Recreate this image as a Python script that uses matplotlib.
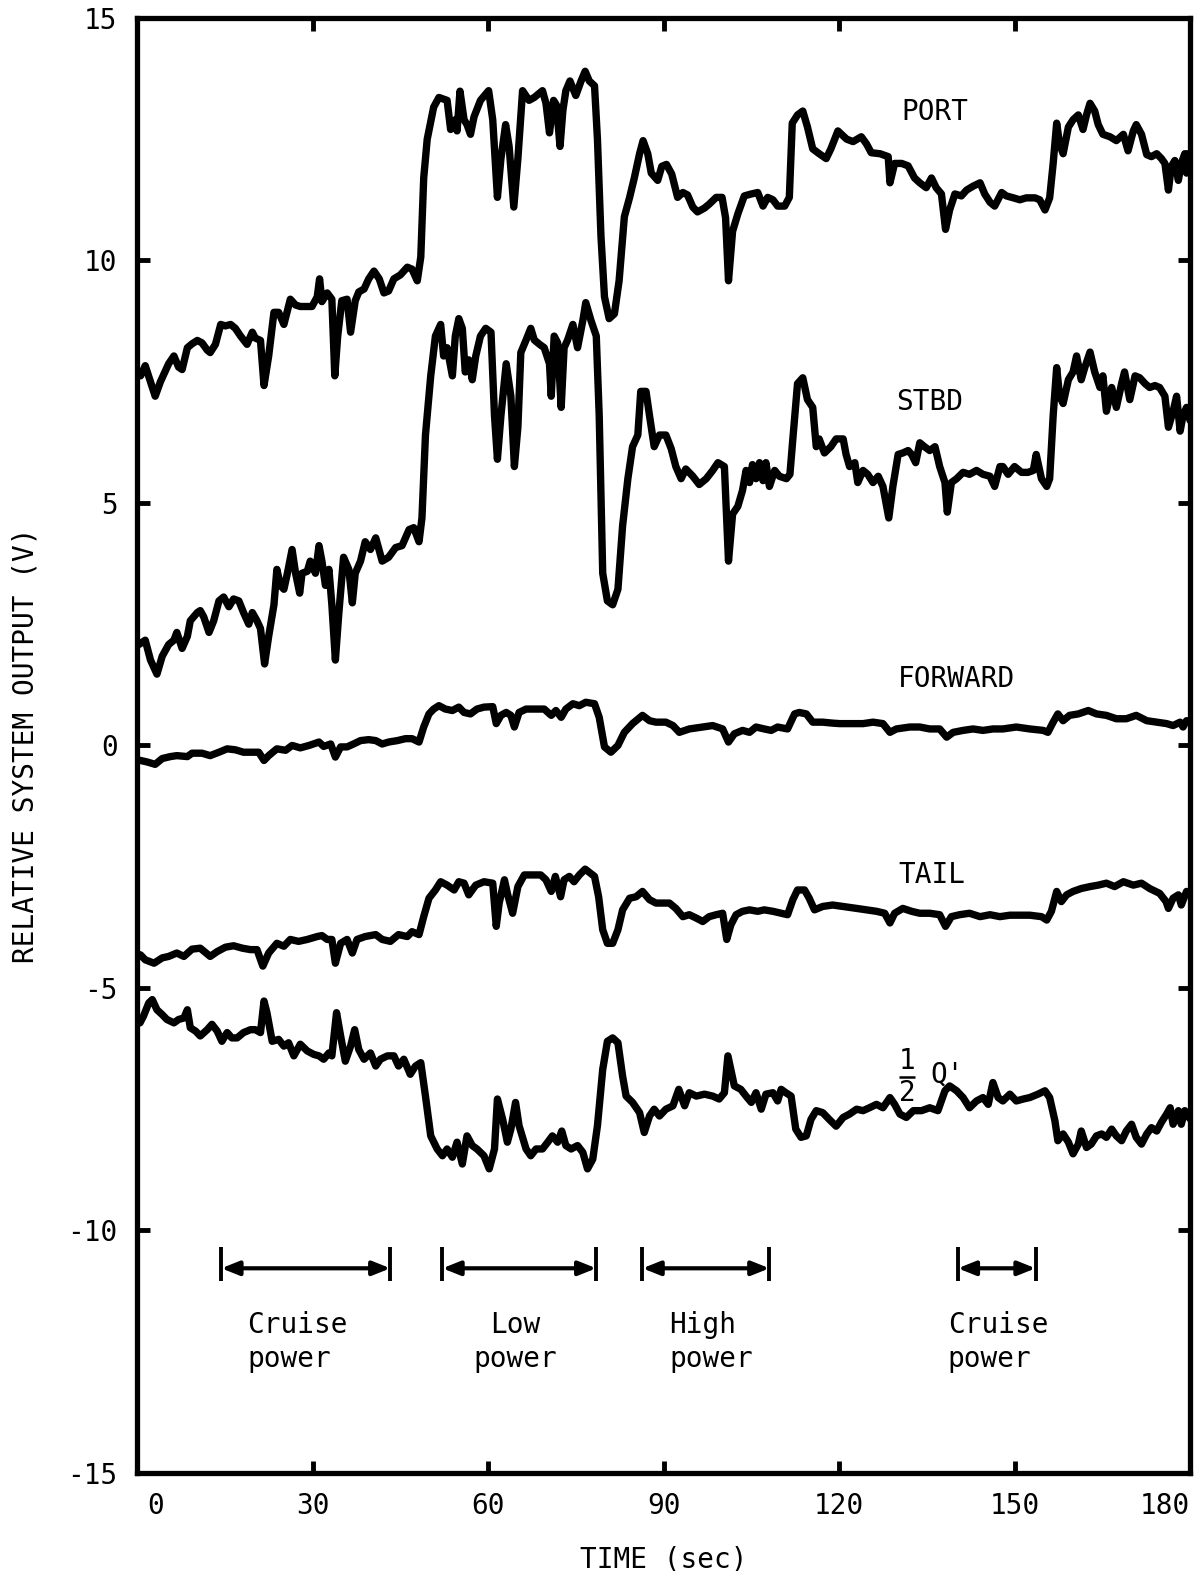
import numpy as np
import matplotlib
matplotlib.use("Agg")
import matplotlib.pyplot as plt
from matplotlib.transforms import ScaledTranslation

plt.rcParams['font.family'] = ['DejaVu Sans Mono', 'DejaVu Sans']
plt.rcParams['axes.unicode_minus'] = False

# traces: (time sec, volts)
port = [(0.0,7.7),(0.6,7.62),(1.4,7.83),(3.1,7.2),(4.0,7.5),(5.4,7.87),(6.3,8.03),(7.1,7.8),(7.7,7.75),(8.6,8.2),(9.4,8.28),(10.3,8.35),(11.1,8.3),(12.0,8.15),(12.5,8.1),(13.4,8.27),(14.3,8.68),(15.1,8.65),(16.0,8.68),(16.8,8.6),(17.7,8.44),(18.8,8.27),(19.7,8.52),(20.2,8.4),(21.1,8.35),(21.7,7.42),(22.5,8.03),(23.4,8.93),(24.2,8.93),(25.1,8.68),(26.2,9.2),(27.1,9.08),(27.9,9.05),(29.1,9.05),(29.9,9.05),(30.8,9.25),(31.2,9.62),(31.6,9.15),(32.5,9.33),(33.3,9.2),(33.8,7.62),(34.3,8.44),(35.0,9.17),(35.9,9.2),(36.5,8.52),(37.3,9.17),(37.9,9.35),(38.8,9.41),(39.6,9.62),(40.5,9.78),(41.4,9.62),(42.2,9.33),(43.0,9.37),(43.9,9.62),(45.0,9.7),(46.2,9.86),(47.0,9.82),(47.9,9.58),(48.5,10.07),(49.0,11.7),(49.6,12.5),(50.7,13.16),(51.6,13.36),(53.0,13.3),(53.6,12.7),(54.4,12.9),(54.7,12.67),(55.2,13.49),(55.9,12.9),(56.4,12.8),(57.0,12.6),(57.6,12.96),(58.7,13.3),(60.1,13.5),(60.8,12.9),(61.6,11.3),(62.2,12.1),(63.0,12.8),(63.6,12.35),(64.4,11.1),(65.1,12.1),(65.9,13.5),(67.0,13.3),(67.9,13.36),(69.3,13.5),(69.9,13.24),(70.5,12.63),(71.2,13.3),(71.7,13.2),(72.3,12.35),(72.8,13.1),(73.3,13.5),(74.0,13.7),(75.0,13.4),(75.9,13.7),(76.6,13.9),(77.3,13.7),(78.2,13.6),(78.7,12.5),(79.3,10.5),(79.9,9.25),(80.7,8.8),(81.6,8.9),(82.4,9.58),(83.3,10.9),(84.2,11.3),(85.0,11.7),(85.9,12.2),(86.5,12.47),(87.3,12.2),(87.9,11.8),(89.0,11.65),(89.7,11.94),(90.5,11.98),(91.4,11.78),(92.4,11.3),(93.3,11.4),(94.1,11.35),(95.0,11.1),(95.8,11.0),(97.0,11.08),(97.8,11.16),(99.0,11.3),(100.0,11.3),(100.6,10.88),(101.1,9.58),(101.8,10.6),(102.7,10.96),(103.8,11.33),(105.0,11.37),(106.1,11.4),(107.0,11.12),(107.8,11.3),(108.7,11.25),(109.5,11.12),(110.7,11.12),(111.5,11.3),(112.0,12.83),(112.9,13.0),(113.8,13.08),(114.6,12.75),(115.5,12.3),(116.6,12.2),(117.8,12.1),(118.6,12.3),(119.8,12.67),(121.3,12.5),(122.4,12.45),(123.8,12.55),(124.7,12.4),(125.5,12.22),(127.0,12.2),(128.4,12.14),(128.7,11.6),(129.5,12.0),(130.7,12.0),(131.8,11.95),(132.9,11.7),(133.8,11.6),(134.9,11.5),(135.8,11.7),(136.6,11.5),(137.5,11.37),(138.2,10.64),(138.9,11.04),(139.8,11.37),(140.9,11.33),(141.8,11.45),(142.9,11.53),(144.1,11.6),(144.9,11.37),(145.8,11.2),(146.6,11.12),(147.8,11.4),(148.6,11.33),(149.8,11.29),(150.9,11.25),(152.0,11.29),(153.5,11.29),(154.3,11.25),(155.2,11.04),(156.0,11.29),(156.6,12.0),(157.2,12.83),(157.7,12.4),(158.3,12.2),(159.2,12.75),(160.0,12.9),(160.9,13.0),(161.7,12.7),(162.3,13.0),(162.9,13.24),(163.7,13.08),(164.3,12.8),(165.1,12.6),(166.3,12.55),(167.4,12.47),(168.6,12.6),(169.4,12.26),(170.3,12.67),(170.8,12.8),(171.7,12.6),(172.6,12.18),(173.4,12.14),(174.3,12.2),(175.1,12.1),(175.7,12.0),(176.3,11.45),(176.8,11.94),(177.4,12.06),(178.0,11.65),(178.5,12.0),(179.1,12.2),(179.4,11.8),(179.7,12.2),(180.0,12.1)]

stbd = [(0.0,2.1),(0.3,2.08),(1.4,2.17),(2.3,1.76),(3.4,1.47),(4.3,1.84),(5.4,2.08),(6.3,2.17),(6.8,2.33),(7.7,2.0),(8.6,2.25),(9.1,2.57),(10.3,2.74),(10.8,2.78),(11.4,2.65),(12.3,2.33),(13.1,2.57),(14.0,2.98),(14.8,3.06),(15.7,2.86),(16.5,3.02),(17.4,2.98),(18.2,2.74),(19.1,2.5),(19.7,2.74),(20.5,2.57),(21.1,2.41),(21.8,1.68),(22.5,2.25),(23.4,2.9),(23.9,3.63),(24.5,3.3),(25.1,3.22),(25.7,3.55),(26.5,4.04),(27.1,3.55),(27.8,3.14),(28.2,3.55),(29.1,3.59),(29.6,3.8),(30.5,3.55),(31.1,4.12),(31.6,3.8),(32.2,3.3),(32.8,3.63),(33.3,2.9),(33.9,1.76),(34.5,2.74),(35.3,3.88),(36.2,3.63),(36.8,2.94),(37.3,3.55),(38.2,3.8),(39.0,4.2),(39.9,4.04),(40.8,4.28),(41.9,3.8),(43.0,3.88),(44.2,4.08),(45.3,4.12),(46.5,4.45),(47.3,4.49),(48.2,4.2),(48.7,4.69),(49.3,6.4),(50.2,7.62),(51.0,8.44),(51.9,8.68),(52.4,8.03),(53.0,8.2),(53.9,7.62),(54.4,8.44),(55.0,8.8),(55.6,8.6),(56.1,7.7),(56.7,7.95),(57.3,7.54),(57.9,8.03),(58.7,8.44),(59.6,8.6),(60.5,8.52),(61.1,6.8),(61.6,5.9),(62.2,6.8),(63.1,7.87),(63.9,7.2),(64.5,5.75),(65.1,6.56),(65.6,8.1),(66.5,8.36),(67.3,8.6),(67.9,8.36),(68.8,8.27),(69.6,8.2),(70.5,7.87),(70.8,7.2),(71.3,8.44),(71.9,8.3),(72.5,6.97),(73.0,8.2),(73.6,8.36),(74.5,8.68),(75.3,8.2),(76.2,8.76),(76.7,9.13),(77.6,8.76),(78.5,8.44),(79.0,6.8),(79.6,3.55),(80.4,2.98),(81.3,2.9),(82.2,3.22),(83.0,4.53),(83.9,5.5),(84.7,6.16),(85.6,6.4),(86.1,7.3),(87.0,7.3),(87.6,6.8),(88.4,6.16),(89.3,6.4),(90.4,6.4),(91.3,6.12),(92.1,5.75),(93.0,5.5),(93.8,5.7),(95.0,5.55),(96.1,5.38),(97.3,5.5),(98.4,5.67),(99.3,5.83),(100.4,5.75),(101.1,3.8),(101.8,4.77),(102.7,4.93),(103.5,5.26),(104.1,5.67),(104.7,5.42),(105.2,5.79),(105.8,5.5),(106.4,5.83),(107.0,5.46),(107.5,5.83),(108.1,5.34),(109.0,5.67),(109.8,5.55),(111.0,5.5),(111.6,5.59),(112.1,6.32),(112.9,7.46),(113.8,7.58),(114.6,7.13),(115.5,6.97),(116.1,6.16),(116.6,6.32),(117.5,6.03),(118.6,6.16),(119.5,6.32),(120.7,6.32),(121.2,6.0),(121.8,5.75),(122.7,5.83),(123.2,5.42),(124.1,5.67),(124.9,5.59),(125.8,5.42),(126.7,5.55),(127.5,5.34),(128.5,4.69),(129.2,5.34),(130.1,6.0),(130.9,6.03),(131.8,6.08),(132.4,6.0),(133.1,5.83),(133.8,6.24),(134.6,6.16),(135.5,6.08),(136.4,6.16),(137.2,5.75),(138.1,5.42),(138.5,4.81),(139.2,5.42),(140.1,5.5),(141.2,5.63),(142.3,5.59),(143.5,5.67),(144.6,5.59),(145.8,5.55),(146.6,5.34),(147.5,5.75),(148.0,5.75),(148.9,5.59),(150.0,5.75),(151.2,5.63),(152.3,5.63),(153.2,5.67),(153.7,6.0),(154.6,5.5),(155.5,5.34),(156.0,5.5),(156.6,6.8),(157.2,7.79),(157.7,7.2),(158.3,7.05),(159.2,7.54),(160.0,7.7),(160.6,8.03),(161.4,7.54),(162.0,7.79),(162.9,8.11),(163.7,7.7),(164.6,7.38),(165.1,7.62),(165.7,6.89),(166.6,7.38),(167.4,6.97),(168.3,7.46),(168.8,7.7),(169.7,7.13),(170.6,7.62),(171.4,7.58),(172.3,7.46),(173.1,7.38),(174.0,7.42),(174.8,7.38),(175.7,7.2),(176.3,6.56),(177.1,6.89),(177.7,7.2),(178.3,6.48),(178.8,6.8),(179.4,6.97),(180.0,6.7)]

forward = [(0.0,-0.3),(0.6,-0.31),(1.7,-0.34),(3.1,-0.39),(4.3,-0.27),(5.7,-0.23),(6.8,-0.21),(8.6,-0.23),(9.4,-0.16),(11.1,-0.16),(12.5,-0.21),(14.0,-0.14),(15.4,-0.07),(16.8,-0.09),(18.2,-0.14),(19.7,-0.14),(20.8,-0.14),(21.7,-0.31),(22.5,-0.21),(23.9,-0.07),(25.4,-0.1),(26.5,0.0),(27.9,-0.05),(29.4,0.0),(31.1,0.07),(31.9,-0.02),(33.1,0.03),(33.9,-0.24),(34.8,-0.03),(35.9,-0.03),(37.0,0.03),(38.2,0.1),(39.6,0.12),(40.8,0.1),(41.9,0.03),(43.0,0.07),(44.5,0.1),(45.9,0.14),(47.0,0.14),(48.2,0.07),(49.0,0.38),(49.9,0.65),(50.7,0.75),(51.6,0.82),(52.7,0.75),(53.9,0.72),(55.0,0.79),(55.9,0.68),(57.0,0.65),(58.1,0.75),(59.3,0.79),(60.8,0.8),(61.4,0.45),(62.2,0.62),(63.1,0.68),(63.9,0.62),(64.5,0.38),(65.3,0.68),(66.5,0.75),(68.2,0.75),(69.6,0.75),(70.8,0.62),(71.6,0.72),(72.5,0.58),(73.3,0.75),(74.5,0.86),(75.6,0.82),(76.7,0.89),(78.2,0.86),(79.0,0.58),(79.9,-0.03),(81.0,-0.14),(82.2,0.0),(83.3,0.27),(84.7,0.45),(86.4,0.62),(87.6,0.51),(88.7,0.48),(90.4,0.48),(91.6,0.41),(92.7,0.27),(94.4,0.34),(96.7,0.38),(98.4,0.41),(100.1,0.34),(101.1,0.07),(102.1,0.24),(103.5,0.31),(104.7,0.27),(105.8,0.38),(107.2,0.34),(108.4,0.31),(109.5,0.38),(111.2,0.34),(112.4,0.65),(113.2,0.68),(114.4,0.65),(115.5,0.48),(117.2,0.48),(118.9,0.46),(120.1,0.45),(121.8,0.45),(124.1,0.45),(125.8,0.48),(127.5,0.45),(128.7,0.27),(129.8,0.34),(132.1,0.38),(133.8,0.38),(135.5,0.34),(137.2,0.34),(138.4,0.17),(139.5,0.27),(141.2,0.31),(142.9,0.34),(144.6,0.31),(146.3,0.34),(148.0,0.34),(150.3,0.38),(152.6,0.34),(154.9,0.31),(155.7,0.27),(156.6,0.48),(157.4,0.65),(158.3,0.51),(159.4,0.62),(160.9,0.65),(162.6,0.72),(164.0,0.65),(165.7,0.62),(167.4,0.55),(169.1,0.55),(170.8,0.62),(172.6,0.51),(174.3,0.48),(176.0,0.45),(177.1,0.41),(178.3,0.48),(178.8,0.38),(179.4,0.51),(180.0,0.5)]

tail = [(0.0,-4.3),(0.6,-4.32),(1.4,-4.42),(2.9,-4.49),(4.3,-4.38),(5.4,-4.35),(6.8,-4.28),(8.0,-4.35),(9.4,-4.2),(10.8,-4.18),(12.5,-4.35),(13.7,-4.25),(15.1,-4.16),(16.5,-4.13),(18.0,-4.18),(19.4,-4.21),(20.5,-4.21),(21.5,-4.55),(22.5,-4.28),(23.9,-4.08),(25.1,-4.14),(26.2,-4.0),(27.6,-4.04),(29.1,-4.0),(30.8,-3.94),(31.6,-3.92),(32.5,-4.0),(33.3,-4.0),(33.9,-4.49),(34.8,-4.08),(35.9,-4.0),(36.8,-4.28),(37.6,-4.0),(39.0,-3.94),(40.8,-3.9),(41.9,-4.0),(43.3,-4.04),(44.7,-3.9),(46.2,-3.94),(47.0,-3.84),(48.2,-3.9),(49.0,-3.53),(49.9,-3.15),(51.0,-2.98),(51.9,-2.81),(53.0,-2.88),(54.2,-2.98),(55.0,-2.81),(55.9,-2.84),(56.7,-3.08),(57.9,-2.88),(59.3,-2.81),(60.8,-2.84),(61.4,-3.73),(61.9,-3.25),(62.8,-2.77),(63.3,-3.05),(64.2,-3.46),(65.1,-2.91),(66.2,-2.67),(67.6,-2.67),(69.0,-2.67),(69.9,-2.77),(70.8,-3.01),(71.5,-2.7),(72.4,-3.12),(73.0,-2.77),(73.9,-2.7),(74.7,-2.81),(75.6,-2.67),(76.6,-2.55),(78.2,-2.7),(78.9,-3.12),(79.6,-3.8),(80.4,-4.08),(81.3,-4.08),(82.2,-3.8),(83.0,-3.39),(84.2,-3.15),(85.3,-3.12),(86.4,-3.01),(87.6,-3.18),(88.7,-3.25),(89.9,-3.25),(91.0,-3.25),(92.1,-3.36),(93.3,-3.53),(94.4,-3.49),(95.6,-3.56),(96.7,-3.63),(97.8,-3.53),(99.0,-3.49),(100.1,-3.46),(100.8,-4.0),(101.5,-3.7),(102.4,-3.49),(103.5,-3.42),(104.7,-3.39),(106.1,-3.42),(107.2,-3.39),(108.7,-3.42),(110.1,-3.46),(111.2,-3.49),(112.1,-3.18),(112.9,-2.98),(114.1,-2.98),(114.9,-3.15),(115.8,-3.39),(117.2,-3.32),(118.9,-3.29),(120.7,-3.32),(123.0,-3.36),(124.7,-3.39),(126.4,-3.42),(127.8,-3.46),(128.7,-3.66),(129.5,-3.46),(130.9,-3.36),(132.4,-3.42),(133.8,-3.46),(135.5,-3.46),(137.2,-3.49),(138.2,-3.73),(139.2,-3.53),(140.6,-3.49),(142.3,-3.46),(144.1,-3.53),(145.8,-3.49),(147.5,-3.53),(149.2,-3.5),(150.9,-3.5),(152.6,-3.5),(154.6,-3.53),(155.5,-3.6),(156.3,-3.42),(157.2,-3.01),(158.0,-3.22),(158.9,-3.08),(160.0,-3.01),(161.4,-2.95),(162.9,-2.91),(164.3,-2.88),(165.7,-2.84),(167.1,-2.91),(168.6,-2.81),(170.3,-2.88),(171.7,-2.84),(173.1,-2.95),(174.8,-3.05),(175.9,-3.22),(176.3,-3.36),(177.1,-3.15),(178.0,-3.08),(178.5,-3.29),(179.4,-3.01),(180.0,-3.05)]

half_q = [(0.0,-5.7),(0.5,-5.72),(1.1,-5.58),(2.0,-5.31),(2.6,-5.24),(3.4,-5.45),(4.3,-5.55),(5.1,-5.65),(6.3,-5.72),(7.1,-5.65),(8.0,-5.62),(8.6,-5.45),(9.1,-5.82),(10.0,-5.89),(10.8,-5.99),(12.0,-5.86),(12.8,-5.75),(13.7,-5.89),(14.5,-6.1),(15.4,-5.92),(16.2,-6.03),(17.1,-6.03),(18.2,-5.92),(19.4,-5.86),(20.2,-5.86),(21.1,-5.92),(21.7,-5.27),(22.2,-5.51),(23.1,-6.1),(24.2,-6.06),(25.1,-6.2),(25.9,-6.13),(26.8,-6.4),(27.9,-6.16),(29.1,-6.3),(30.2,-6.37),(31.1,-6.4),(31.9,-6.47),(32.8,-6.34),(33.3,-6.4),(34.1,-5.51),(34.8,-5.99),(35.6,-6.51),(36.5,-6.2),(37.2,-5.86),(37.9,-6.27),(38.8,-6.47),(39.9,-6.34),(40.8,-6.61),(41.6,-6.47),(42.8,-6.4),(43.9,-6.4),(44.7,-6.61),(45.6,-6.47),(46.7,-6.78),(47.6,-6.61),(48.5,-6.54),(49.3,-7.23),(50.2,-8.05),(51.3,-8.32),(52.2,-8.46),(53.0,-8.32),(53.9,-8.49),(54.7,-8.18),(55.6,-8.63),(56.4,-8.05),(57.3,-8.25),(58.1,-8.32),(59.3,-8.46),(60.2,-8.73),(61.1,-8.32),(61.6,-7.29),(62.5,-7.71),(63.3,-8.18),(63.9,-7.91),(64.7,-7.36),(65.3,-7.84),(66.5,-8.32),(67.3,-8.46),(68.2,-8.32),(69.3,-8.32),(70.2,-8.18),(71.0,-8.05),(71.9,-8.18),(72.6,-7.95),(73.3,-8.25),(74.2,-8.32),(75.3,-8.25),(76.2,-8.39),(77.0,-8.73),(77.9,-8.53),(78.7,-7.84),(79.6,-6.68),(80.4,-6.1),(81.3,-6.03),(82.2,-6.13),(83.0,-6.82),(83.6,-7.23),(84.7,-7.36),(85.9,-7.57),(86.7,-7.98),(87.6,-7.64),(88.4,-7.5),(89.3,-7.64),(90.4,-7.5),(91.6,-7.43),(92.6,-7.09),(93.6,-7.43),(94.4,-7.16),(95.6,-7.23),(97.0,-7.19),(98.4,-7.23),(99.5,-7.29),(100.4,-7.16),(101.0,-6.4),(101.5,-6.68),(102.1,-7.02),(103.2,-7.09),(104.1,-7.23),(105.0,-7.36),(105.8,-7.16),(106.7,-7.5),(107.5,-7.19),(108.7,-7.16),(109.5,-7.33),(110.1,-7.09),(110.9,-7.16),(111.8,-7.23),(112.6,-7.91),(113.5,-8.08),(114.4,-8.05),(115.2,-7.71),(116.1,-7.53),(117.2,-7.57),(118.4,-7.72),(119.5,-7.85),(120.7,-7.67),(121.8,-7.6),(123.0,-7.5),(124.1,-7.53),(125.2,-7.47),(126.4,-7.4),(127.5,-7.47),(128.7,-7.26),(129.5,-7.4),(130.4,-7.6),(131.5,-7.67),(132.7,-7.53),(134.1,-7.53),(135.5,-7.47),(136.9,-7.53),(138.1,-7.12),(138.9,-7.02),(140.1,-7.12),(141.2,-7.26),(142.3,-7.47),(143.5,-7.33),(144.6,-7.26),(145.5,-7.4),(146.3,-6.95),(147.2,-7.26),(148.0,-7.33),(149.2,-7.19),(150.3,-7.33),(151.5,-7.29),(152.6,-7.26),(154.0,-7.19),(155.2,-7.12),(156.0,-7.26),(156.9,-7.74),(157.4,-8.15),(158.3,-8.01),(159.2,-8.18),(160.0,-8.42),(160.9,-8.22),(161.4,-7.95),(162.3,-8.29),(163.1,-8.22),(164.0,-8.05),(164.9,-8.01),(165.7,-8.08),(166.6,-7.91),(167.4,-8.05),(168.3,-8.15),(169.1,-7.95),(170.0,-7.81),(170.8,-8.08),(171.7,-8.22),(172.6,-8.01),(173.4,-7.88),(174.3,-7.95),(175.1,-7.77),(176.0,-7.6),(176.6,-7.47),(177.1,-7.81),(178.0,-7.53),(178.5,-7.81),(179.1,-7.53),(180.0,-7.7)]

# trace labels: text, time, volts
trace_labels = [("PORT", 136.4, 13.05), ("STBD", 135.5, 7.08), ("FORWARD", 140.1, 1.38), ("TAIL", 135.8, -2.68)]

# power phases: label, start, end, text x, alignment
phases = [("Cruise\npower", 14.4, 43.3, 18.8, 'left'),
          ("Low\npower", 52.2, 78.5, 64.7, 'center'),
          ("High\npower", 86.4, 108.1, 91.0, 'left'),
          ("Cruise\npower", 140.3, 153.6, 138.6, 'left')]

FS = 20

fig = plt.figure(figsize=(11.97, 15.71), dpi=100)
ax = fig.add_axes([0.1145, 0.0624, 0.8797, 0.9262])

for trace in [port, stbd, forward, tail, half_q]:
    t, v = zip(*trace)
    ax.plot(t, v, color='black', lw=5.3, solid_joinstyle='round', solid_capstyle='round')

for name, tx, vy in trace_labels:
    ax.text(tx, vy, name, fontsize=FS, ha='center', va='center')

# the "1/2 Q'" label, built from plain characters like the typed original
ax.text(131.6, -6.50, "1", fontsize=FS, ha='center', va='center')
ax.text(131.6, -7.17, "2", fontsize=FS, ha='center', va='center')
ax.hlines(-6.84, 130.3, 132.9, color='black', lw=1.8)
ax.text(135.6, -6.78, "Q'", fontsize=FS, ha='left', va='center')

arrow_y = -10.78
for label, t0, t1, tx, align in phases:
    ax.vlines([t0, t1], -11.05, -10.35, color='black', lw=2.8)
    ax.annotate('', xy=(t1, arrow_y), xytext=(t0, arrow_y),
                arrowprops=dict(arrowstyle='<|-|>,head_length=0.7,head_width=0.28',
                                mutation_scale=15, lw=3, color='black',
                                shrinkA=0, shrinkB=0))
    ax.text(tx, -12.3, label, fontsize=FS, ha=align, va='center',
            multialignment=align, linespacing=1.3)

ax.set_xlim(0, 180)
ax.set_ylim(-15, 15)
ax.set_xticks(np.arange(0, 181, 30))
ax.set_yticks(np.arange(-15, 16, 5))
ax.tick_params(direction='in', length=9, width=3.5, labelsize=FS,
               top=True, right=True, pad=14)
xl = ax.get_xticklabels()
xl[0].set_transform(xl[0].get_transform() + ScaledTranslation(0.19, 0, fig.dpi_scale_trans))
xl[-1].set_transform(xl[-1].get_transform() + ScaledTranslation(-0.25, 0, fig.dpi_scale_trans))
for s in ax.spines.values():
    s.set_linewidth(3.8)

ax.set_xlabel('TIME (sec)', fontsize=FS, labelpad=18)
ax.set_ylabel('RELATIVE SYSTEM OUTPUT (V)', fontsize=FS, labelpad=20)

fig.savefig('out.png', dpi=100)
